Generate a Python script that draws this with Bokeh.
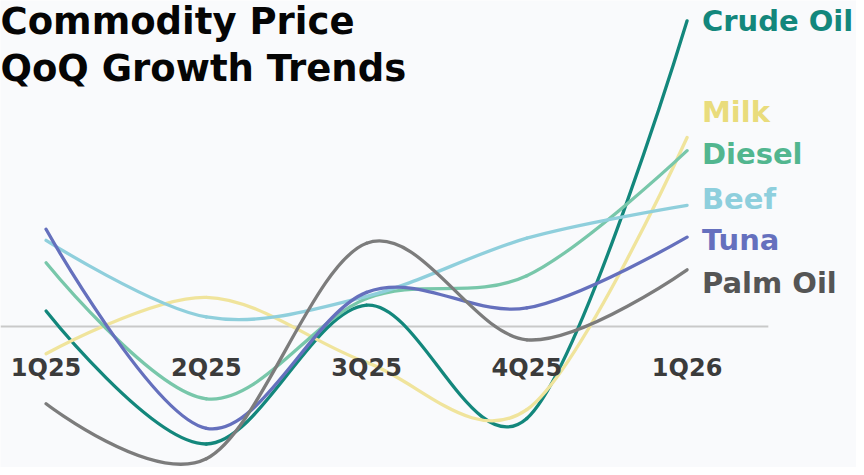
import numpy as np
from bokeh.plotting import figure
from bokeh.models import Range1d
from bokeh.core.properties import value
from bokeh.embed import file_html
from bokeh.resources import INLINE

# ---------------- data ----------------
quarters = ["1Q25", "2Q25", "3Q25", "4Q25", "1Q26"]
commodities = ["Crude Oil", "Milk", "Diesel", "Beef", "Tuna", "Palm Oil"]
crude_oil = [0.78, -5.98, 1.08, -4.68, 15.54]
milk = [-1.39, 1.48, -1.83, -4.23, 9.61]
diesel = [3.24, -3.68, 1.42, 2.58, 8.94]
beef = [4.38, 0.48, 1.53, 4.49, 6.16]
tuna = [4.94, -5.18, 1.73, 0.94, 4.54]
palm_oil = [-3.93, -6.73, 4.23, -0.68, 2.88]
series = [crude_oil, milk, diesel, beef, tuna, palm_oil]
title_lines = ["Commodity Price", "QoQ Growth Trends"]

line_colors = ["#13877c", "#f0e49c", "#78c7aa", "#8fcfdc", "#6570bd", "#7c7c7c"]
label_colors = ["#13877c", "#e9dc7c", "#52b68f", "#8ecfdd", "#6570be", "#555555"]

# ---------------- layout helpers (reference pixel -> data) ----------------
W, H = 856, 467
REF_W, REF_H = 864, 475
PX_X = 161.75       # reference pixels per quarter
PX_Y = 20.0         # reference pixels per unit
X0_REF = 46         # reference pixel of first quarter
Y0_REF = 331.5      # reference pixel of zero line


def xd(px):
    return (px - X0_REF) / PX_X


def yd(py):
    return (Y0_REF - py) / PX_Y


p = figure(width=W, height=H,
           x_range=Range1d(xd(0), xd(REF_W)),
           y_range=Range1d(yd(REF_H), yd(0)),
           min_border=0, toolbar_location=None, output_backend="svg")
p.axis.visible = False
p.grid.visible = False
p.outline_line_color = None
p.background_fill_color = "#f9fafc"
p.border_fill_color = "#f9fafc"

# zero line
p.segment(x0=[xd(0)], y0=[0], x1=[xd(775)], y1=[0], line_color="#c9c9c9", line_width=2)

# smooth lines (cardinal spline segments drawn as Bezier curves)
xs = np.arange(len(quarters), dtype=float)
k = 1.0 / 6.0
for vals, col in zip(series, line_colors):
    ys = np.asarray(vals, dtype=float)
    n = len(ys)
    x0s, y0s, x1s, y1s, cx0, cy0, cx1, cy1 = [], [], [], [], [], [], [], []
    for i in range(n - 1):
        xa, ya = xs[i], ys[i]
        xb, yb = xs[i + 1], ys[i + 1]
        if i == 0:
            c0x, c0y = xa, ya
        else:
            c0x, c0y = xa + k * (xb - xs[i - 1]), ya + k * (yb - ys[i - 1])
        if i == n - 2:
            c1x, c1y = xb, yb
        else:
            c1x, c1y = xb - k * (xs[i + 2] - xa), yb - k * (ys[i + 2] - ya)
        x0s.append(xa); y0s.append(ya); x1s.append(xb); y1s.append(yb)
        cx0.append(c0x); cy0.append(c0y); cx1.append(c1x); cy1.append(c1y)
    p.bezier(x0=x0s, y0=y0s, x1=x1s, y1=y1s, cx0=cx0, cy0=cy0, cx1=cx1, cy1=cy1,
             line_color=col, line_width=3.3, line_cap="round")

FONT = value("DejaVu Sans")

# quarter labels
p.text(x=list(xs), y=[yd(374)] * len(quarters), text=quarters,
       text_font=FONT, text_font_style="bold", text_font_size="24px",
       text_color="#3b3b3b", text_align="center", text_baseline="middle")

# series labels (positions adjusted to avoid overlap)
label_pix = [21, 113, 156, 202, 244, 287]
p.text(x=[xd(708)] * len(commodities), y=[yd(v) for v in label_pix], text=commodities,
       text_font=FONT, text_font_style="bold", text_font_size="29px",
       text_color=label_colors, text_align="left", text_baseline="middle")

# title
p.text(x=[xd(0)] * 2, y=[yd(21), yd(69)], text=title_lines,
       text_font=FONT, text_font_style="bold", text_font_size="37px",
       text_color="#050505", text_align="left", text_baseline="middle")

open("out.html", "w").write(file_html(p, INLINE))
